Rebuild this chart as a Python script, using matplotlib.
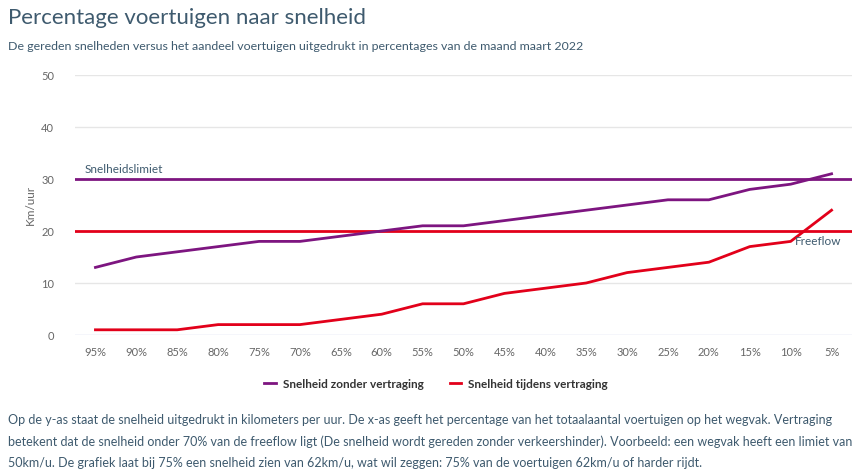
import numpy as np
import matplotlib
matplotlib.use("Agg")
import matplotlib.pyplot as plt

# data (km/uur per percentile)
percentages = ["95%", "90%", "85%", "80%", "75%", "70%", "65%", "60%", "55%", "50%",
               "45%", "40%", "35%", "30%", "25%", "20%", "15%", "10%", "5%"]
zonder_vertraging = [13, 15, 16, 17, 18, 18, 19, 20, 21, 21, 22, 23, 24, 25, 26, 26, 28, 29, 31]
tijdens_vertraging = [1, 1, 1, 2, 2, 2, 3, 4, 6, 6, 8, 9, 10, 12, 13, 14, 17, 18, 24]
snelheidslimiet = 30
freeflow = 20

PURPLE = "#7d1580"
RED = "#e2001a"
TEXT = "#3e5a6e"
TICK = "#666666"

plt.rcParams['font.family'] = ['Lato', 'DejaVu Sans']

fig = plt.figure(figsize=(8.68, 4.74), dpi=100)
ax = fig.add_axes([75/868, 1-335/474, (852-75)/868, (335-75)/474])

x = np.arange(len(percentages))

# grid
for y in [0, 10, 40, 50]:
    ax.axhline(y, color="#e6e6e6" if y else "#ccd6eb", lw=1, zorder=1)

# plot lines
ax.axhline(snelheidslimiet, color=PURPLE, lw=2, zorder=2)
ax.axhline(freeflow, color=RED, lw=2, zorder=2)
ax.plot(x, zonder_vertraging, color=PURPLE, lw=2, zorder=3, label="Snelheid zonder vertraging")
ax.plot(x, tijdens_vertraging, color=RED, lw=2, zorder=3, label="Snelheid tijdens vertraging")

ax.text(-0.27, snelheidslimiet + 0.8, "Snelheidslimiet", color=TEXT, fontsize=8.5, va="bottom")
ax.text(18.25, freeflow - 0.9, "Freeflow", color=TEXT, fontsize=8.5, va="top", ha="right")

ax.set_xlim(-0.5, 18.5)
ax.set_ylim(0, 50)
ax.set_xticks(x)
ax.set_xticklabels(percentages)
ax.set_yticks([0, 10, 20, 30, 40, 50])
ax.tick_params(axis="both", length=0, labelsize=8, labelcolor=TICK)
ax.tick_params(axis="y", pad=15)
ax.tick_params(axis="x", pad=9)
for s in ax.spines.values():
    s.set_visible(False)
ax.set_ylabel("Km/uur", color=TICK, fontsize=8.5, labelpad=4)

leg = fig.legend(loc="center", bbox_to_anchor=(436/868, 1-384/474), ncol=2, frameon=False,
                 fontsize=8.5, handlelength=1.0, columnspacing=2.2, handletextpad=0.6)
for t in leg.get_texts():
    t.set_color("#333333")
    t.set_fontweight("bold")

fig.text(8/868, 1-18/474, "Percentage voertuigen naar snelheid", fontsize=16, color=TEXT, va="center")
fig.text(8/868, 1-47/474, "De gereden snelheden versus het aandeel voertuigen uitgedrukt in percentages van de maand maart 2022",
         fontsize=8.9, color=TEXT, va="center")

body = ["Op de y-as staat de snelheid uitgedrukt in kilometers per uur. De x-as geeft het percentage van het totaalaantal voertuigen op het wegvak. Vertraging",
        "betekent dat de snelheid onder 70% van de freeflow ligt (De snelheid wordt gereden zonder verkeershinder). Voorbeeld: een wegvak heeft een limiet van",
        "50km/u. De grafiek laat bij 75% een snelheid zien van 62km/u, wat wil zeggen: 75% van de voertuigen 62km/u of harder rijdt."]
for i, line in enumerate(body):
    fig.text(8/868, 1-(420+21.5*i)/474, line, fontsize=9.0, color=TEXT, va="center")

fig.savefig("out.png", dpi=100)
